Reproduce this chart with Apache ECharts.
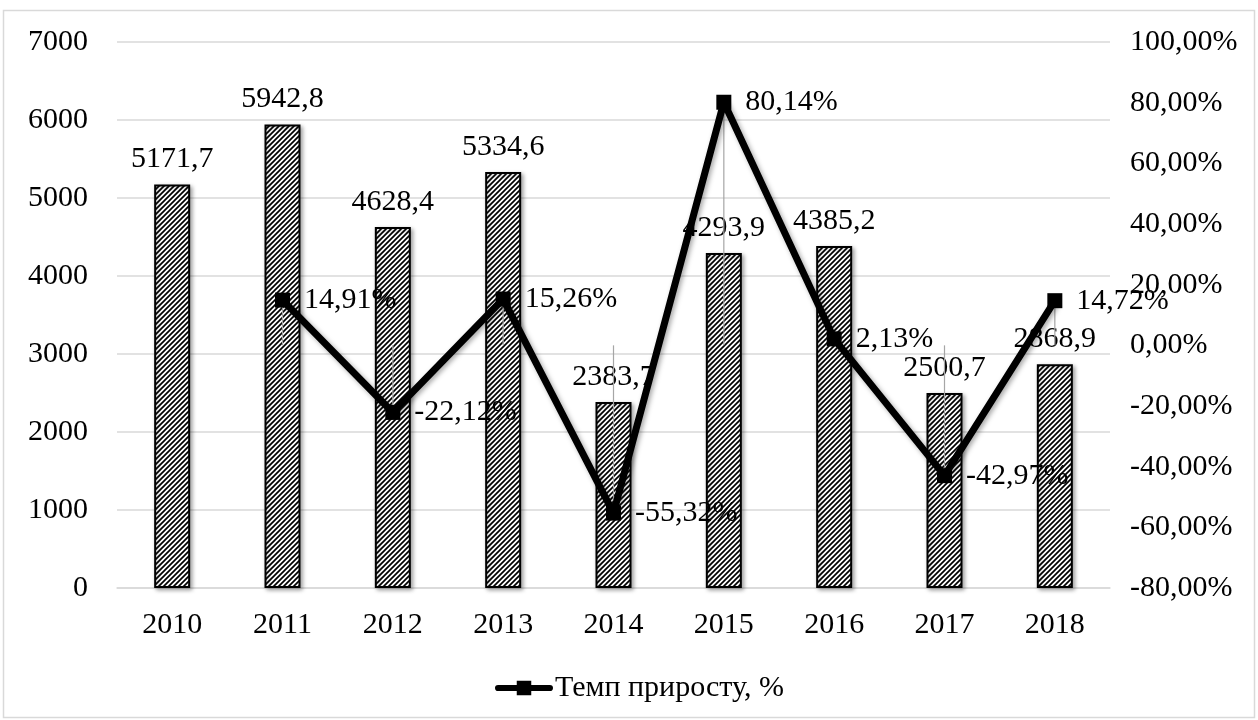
<!DOCTYPE html>
<html>
<head>
<meta charset="utf-8">
<script src="https://cdn.jsdelivr.net/npm/echarts@6/dist/echarts.min.js"></script>
<style>
html,body{margin:0;padding:0;background:#fff;}
#chart{width:1258px;height:720px;}
</style>
</head>
<body>
<div id="chart"></div>
<script>
const categories = ['2010','2011','2012','2013','2014','2015','2016','2017','2018'];
const volumeValues = [5171.7, 5942.8, 4628.4, 5334.6, 2383.7, 4293.9, 4385.2, 2500.7, 2868.9];
const growthValues = [null, 14.91, -22.12, 15.26, -55.32, 80.14, 2.13, -42.97, 14.72];
const growthName = 'Темп приросту, %';
const volumeName = 'Обсяг';

const FONT = '"Liberation Serif", "Times New Roman", serif';
const FS = 30;

// hatch pattern
const tile = document.createElement('canvas');
tile.width = 5; tile.height = 5;
const c = tile.getContext('2d');
c.fillStyle = '#fff'; c.fillRect(0,0,5,5);
c.strokeStyle = '#000'; c.lineWidth = 1.7;
c.beginPath();
c.moveTo(-1,6); c.lineTo(6,-1);
c.moveTo(-1,1); c.lineTo(1,-1);
c.moveTo(4,6); c.lineTo(6,4);
c.stroke();

const fmtComma = (v, d) => v.toFixed(d).replace('.', ',');

const dropData = growthValues.map((v,i)=>[i,v]).filter(d=>d[1]!==null);

const chart = echarts.init(document.getElementById('chart'));
chart.setOption({
  animation: false,
  backgroundColor: '#fff',
  textStyle: {fontFamily: FONT, color: '#000'},
  graphic: [{
    type: 'rect', silent: true, z: 0,
    shape: {x: 3.5, y: 10.5, width: 1251, height: 707},
    style: {fill: 'none', stroke: '#d9d9d9', lineWidth: 1.5}
  }],
  grid: {left: 117, right: 148, top: 42, bottom: 132, containLabel: false},
  legend: {
    data: [{name: growthName, icon: 'path://M3,4H53A3,3 0 0 1 53,10H3A3,3 0 0 1 3,4Z M21,0H35V14H21Z'}],
    bottom: 12, left: 490,
    itemWidth: 58, itemHeight: 15, itemGap: 4,
    itemStyle: {color: '#000'},
    textStyle: {fontFamily: FONT, fontSize: FS, color: '#000', padding: [0,0,0,-3]}
  },
  xAxis: {
    type: 'category', data: categories,
    axisLine: {lineStyle: {color: '#d9d9d9', width: 1.5}},
    axisTick: {show: false},
    axisLabel: {fontFamily: FONT, fontSize: FS, color: '#000', margin: 22}
  },
  yAxis: [{
    type: 'value', min: 0, max: 7000, interval: 1000,
    axisLine: {show: false}, axisTick: {show: false},
    splitLine: {lineStyle: {color: '#d9d9d9', width: 1.5}},
    axisLabel: {fontFamily: FONT, fontSize: FS, color: '#000', margin: 29,
      formatter: v => String(v)}
  },{
    type: 'value', min: -80, max: 100, interval: 20,
    axisLine: {show: false}, axisTick: {show: false},
    splitLine: {show: false},
    axisLabel: {fontFamily: FONT, fontSize: FS, color: '#000', margin: 20,
      formatter: v => fmtComma(v, 2) + '%'}
  }],
  series: [{
    name: volumeName, type: 'bar', data: volumeValues, barWidth: 36, z: 2,
    itemStyle: {
      color: {image: tile, repeat: 'repeat'},
      borderColor: '#000', borderWidth: 2,
      shadowColor: 'rgba(0,0,0,0.35)', shadowBlur: 4, shadowOffsetX: 2, shadowOffsetY: 2
    },
    label: {show: true, position: 'top', distance: 10, fontFamily: FONT, fontSize: FS, color: '#000',
      formatter: p => fmtComma(p.value, 1)}
  },{
    name: 'drop', type: 'custom', yAxisIndex: 1, z: 3, silent: true,
    data: dropData,
    encode: {x: 0, y: 1},
    renderItem: (params, api) => {
      const p0 = api.coord([api.value(0), 0]);
      const p1 = api.coord([api.value(0), api.value(1)]);
      return {type: 'line', shape: {x1: p0[0], y1: p0[1], x2: p1[0], y2: p1[1]},
        style: {stroke: '#a6a6a6', lineWidth: 1.2}};
    }
  },{
    name: growthName, type: 'line', yAxisIndex: 1, data: growthValues, z: 4,
    symbol: 'rect', symbolSize: 15,
    lineStyle: {color: '#000', width: 7,
      shadowColor: 'rgba(0,0,0,0.35)', shadowBlur: 5, shadowOffsetX: 2, shadowOffsetY: 2},
    itemStyle: {color: '#000'},
    label: {show: true, position: 'right', distance: 14, fontFamily: FONT, fontSize: FS, color: '#000',
      formatter: p => fmtComma(p.value, 2) + '%'}
  }]
});
</script>
</body>
</html>
